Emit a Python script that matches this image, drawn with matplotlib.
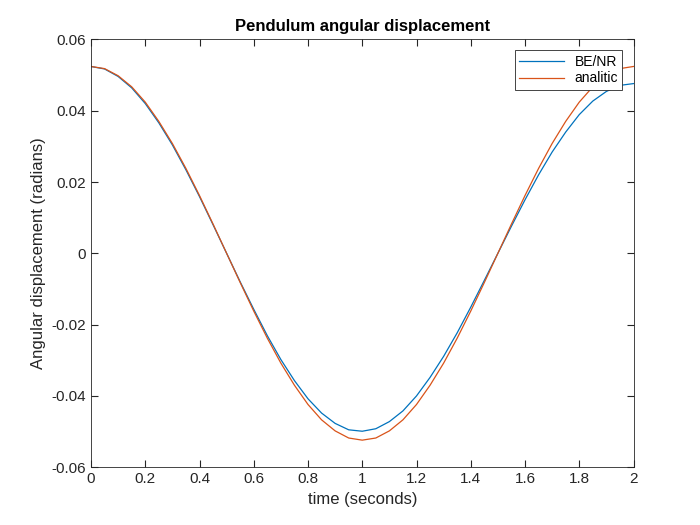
import numpy as np
import matplotlib
matplotlib.use("Agg")
import matplotlib.pyplot as plt

time = [round(0.05 * i, 2) for i in range(41)]
be_nr = [0.0524, 0.0517, 0.0496, 0.0464, 0.0420, 0.0366, 0.0304, 0.0234, 0.0159, 0.0080,
         0.0, -0.0080, -0.0157, -0.0231, -0.0298, -0.0357, -0.0408, -0.0448, -0.0477, -0.0495,
         -0.0499, -0.0492, -0.0472, -0.0442, -0.0400, -0.0348, -0.0289, -0.0223, -0.0151, -0.0076,
         0.0, 0.0076, 0.0150, 0.0220, 0.0284, 0.0340, 0.0389, 0.0427, 0.0454, 0.0471, 0.0476]
analitic = [0.0524, 0.0518, 0.0498, 0.0467, 0.0424, 0.0370, 0.0308, 0.0238, 0.0162, 0.0082,
            0.0, -0.0082, -0.0162, -0.0238, -0.0308, -0.0370, -0.0424, -0.0467, -0.0498, -0.0518,
            -0.0524, -0.0518, -0.0498, -0.0467, -0.0424, -0.0370, -0.0308, -0.0238, -0.0162, -0.0082,
            0.0, 0.0082, 0.0162, 0.0238, 0.0308, 0.0370, 0.0424, 0.0467, 0.0498, 0.0518, 0.0524]

plt.rcParams['font.family'] = ['Liberation Sans', 'DejaVu Sans']
fig = plt.figure(figsize=(7, 5.25), dpi=100, facecolor='white')
ax = fig.add_axes([0.13, 0.11, 0.775, 0.815])
ax.plot(time, be_nr, color='#0072BD', lw=0.9, label='BE/NR')
ax.plot(time, analitic, color='#D95319', lw=0.9, label='analitic')
ax.set_xlim(0, 2)
ax.set_ylim(-0.06, 0.06)
ax.set_xticks(np.arange(0, 2.01, 0.2))
ax.set_xticklabels(['0', '0.2', '0.4', '0.6', '0.8', '1', '1.2', '1.4', '1.6', '1.8', '2'])
ax.set_yticks(np.arange(-0.06, 0.061, 0.02))
ax.set_yticklabels(['-0.06', '-0.04', '-0.02', '0', '0.02', '0.04', '0.06'])
ax.tick_params(direction='in', top=True, right=True, labelsize=11, color='#262626', labelcolor='#262626', length=5)
for s in ax.spines.values():
    s.set_color('#262626')
    s.set_linewidth(0.6)
ax.set_xlabel('time (seconds)', fontsize=12, color='#262626')
ax.set_ylabel('Angular displacement (radians)', fontsize=12, color='#262626')
ax.set_title('Pendulum angular displacement', fontsize=12, fontweight='bold', color='black')
leg = ax.legend(loc='upper right', fontsize=10, fancybox=False, framealpha=1, edgecolor='#262626',
                borderaxespad=0.8, handlelength=3.2, borderpad=0.3, labelspacing=0.2)
leg.get_frame().set_linewidth(0.6)
fig.savefig('out.png', dpi=100)
